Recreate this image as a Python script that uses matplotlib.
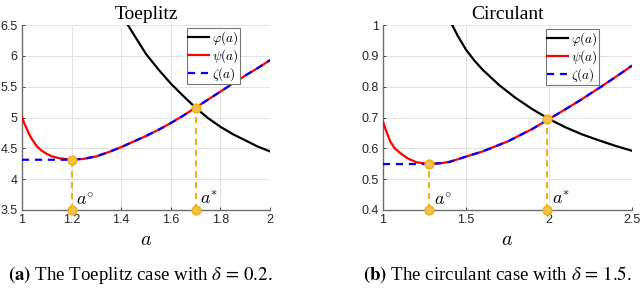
import matplotlib
matplotlib.use("Agg")
import matplotlib.pyplot as plt
import numpy as np

plt.rcParams['mathtext.fontset'] = 'cm'
plt.rcParams['font.family'] = ['Liberation Sans', 'DejaVu Sans']

# ---------------- data: Toeplitz (left) ----------------
toep_psi_a = [1.00, 1.01, 1.02, 1.03, 1.04, 1.05, 1.06, 1.08, 1.10, 1.12, 1.15, 1.20,
              1.25, 1.30, 1.35, 1.40, 1.45, 1.50, 1.55, 1.60, 1.65, 1.70, 1.75, 1.80,
              1.85, 1.90, 1.95, 2.00]
toep_psi_v = [5.00, 4.90, 4.81, 4.72, 4.65, 4.59, 4.53, 4.46, 4.41, 4.37, 4.34, 4.315,
              4.33, 4.37, 4.44, 4.52, 4.61, 4.70, 4.80, 4.91, 5.03, 5.16, 5.29, 5.42,
              5.55, 5.68, 5.80, 5.93]
toep_phi_a = [1.427, 1.45, 1.50, 1.55, 1.60, 1.65, 1.70, 1.75, 1.80, 1.85, 1.90, 1.95, 2.00]
toep_phi_v = [6.50, 6.35, 6.03, 5.78, 5.55, 5.35, 5.16, 4.99, 4.85, 4.73, 4.63, 4.53, 4.45]
toep_a_circ, toep_min = 1.20, 4.315
toep_a_star, toep_star = 1.70, 5.16
toep_xticks = [1, 1.2, 1.4, 1.6, 1.8, 2]
toep_xlabels = ['1', '1.2', '1.4', '1.6', '1.8', '2']
toep_yticks = [3.5, 4, 4.5, 5, 5.5, 6, 6.5]
toep_ylabels = ['3.5', '4', '4.5', '5', '5.5', '6', '6.5']

# ---------------- data: Circulant (right) ----------------
circ_psi_a = [1.00, 1.02, 1.044, 1.07, 1.105, 1.15, 1.20, 1.28, 1.35, 1.40, 1.50, 1.60,
              1.75, 1.90, 2.00, 2.10, 2.20, 2.30, 2.40, 2.50]
circ_psi_v = [0.686, 0.655, 0.622, 0.600, 0.584, 0.567, 0.555, 0.549, 0.552, 0.556, 0.573,
              0.590, 0.622, 0.663, 0.695, 0.727, 0.760, 0.795, 0.831, 0.868]
circ_phi_a = [1.417, 1.45, 1.50, 1.55, 1.60, 1.70, 1.80, 1.90, 2.00, 2.10, 2.20, 2.30, 2.40, 2.50]
circ_phi_v = [1.000, 0.965, 0.920, 0.885, 0.855, 0.805, 0.763, 0.727, 0.695, 0.668, 0.645,
              0.626, 0.608, 0.592]
circ_a_circ, circ_min = 1.28, 0.549
circ_a_star, circ_star = 1.99, 0.695
circ_xticks = [1, 1.5, 2, 2.5]
circ_xlabels = ['1', '1.5', '2', '2.5']
circ_yticks = [0.4, 0.5, 0.6, 0.7, 0.8, 0.9, 1.0]
circ_ylabels = ['0.4', '0.5', '0.6', '0.7', '0.8', '0.9', '1']

ORANGE = '#EDB120'
TXT = '#262626'


def panel(ax, psi_a, psi_v, phi_a, phi_v, a_c, vmin, a_s, vs, xt, xl, yt, yl, title, leg_x, leg_y):
    xlim = (xt[0], xt[-1])
    ylim = (yt[0], yt[-1])
    ax.set_xlim(*xlim)
    ax.set_ylim(*ylim)
    ax.plot(phi_a, phi_v, color='black', lw=1.6, zorder=3, label=r'$\varphi(a)$')
    ax.plot(psi_a, psi_v, color='#FF0000', lw=1.6, zorder=3, label=r'$\psi(a)$')
    za = [xlim[0]] + [a for a in psi_a if a >= a_c]
    zv = [vmin] + [v for a, v in zip(psi_a, psi_v) if a >= a_c]
    ax.plot(za, zv, color='#0000FF', lw=1.6, ls=(0, (3.2, 2.6)), zorder=4, label=r'$\zeta(a)$')
    for a, v in [(a_c, vmin), (a_s, vs)]:
        ax.plot([a, a], [ylim[0], v], color=ORANGE, lw=1.5, ls=(0, (3.0, 2.2)), zorder=5,
                clip_on=False)
        ax.plot([a, a], [ylim[0], v], ls='none', marker='o', ms=6.2, mfc='#F2C24E',
                mec=ORANGE, mew=1.2, zorder=6, clip_on=False)
    ax.annotate(r'$a^{\circ}$', (a_c, ylim[0]), xytext=(3, 1), textcoords='offset points',
                ha='left', va='bottom', fontsize=13, color='black', zorder=7)
    ax.annotate(r'$a^{*}$', (a_s, ylim[0]), xytext=(3, 1), textcoords='offset points',
                ha='left', va='bottom', fontsize=13, color='black', zorder=7)

    ax.set_xticks(xt)
    ax.set_xticklabels(xl)
    ax.set_yticks(yt)
    ax.set_yticklabels(yl)
    ax.tick_params(direction='in', length=2.5, width=0.6, colors=TXT, labelsize=9, pad=3)
    ax.grid(True, color='#e3e3e3', lw=0.7)
    ax.set_axisbelow(True)
    for s in ['top', 'right']:
        ax.spines[s].set_visible(False)
    for s in ['left', 'bottom']:
        ax.spines[s].set_color('#6e6e6e')
        ax.spines[s].set_linewidth(1.0)
    ax.set_xlabel(r'$a$', fontsize=14.5, labelpad=3)
    ax.set_title(title, fontsize=14, family='Liberation Serif', pad=4)
    leg = ax.legend(loc='upper right', bbox_to_anchor=(leg_x, leg_y), fontsize=9.5,
                    frameon=True, fancybox=False, edgecolor='#777777', framealpha=1,
                    handlelength=1.6, handletextpad=0.2, borderpad=0.1, labelspacing=0.0,
                    borderaxespad=0.0)
    leg.get_frame().set_linewidth(0.8)


fig = plt.figure(figsize=(6.4, 2.91), dpi=100)
ax1 = fig.add_axes([22 / 640, 81 / 291, 248 / 640, 185 / 291])
ax2 = fig.add_axes([383 / 640, 81 / 291, 249 / 640, 185 / 291])

panel(ax1, toep_psi_a, toep_psi_v, toep_phi_a, toep_phi_v, toep_a_circ, toep_min,
      toep_a_star, toep_star, toep_xticks, toep_xlabels, toep_yticks, toep_ylabels,
      'Toeplitz', 0.879, 0.984)
panel(ax2, circ_psi_a, circ_psi_v, circ_phi_a, circ_phi_v, circ_a_circ, circ_min,
      circ_a_star, circ_star, circ_xticks, circ_xlabels, circ_yticks, circ_ylabels,
      'Circulant', 0.867, 0.978)

fig.text(8 / 640, 1 - 275 / 291, r'$\mathbf{(a)}$ The Toeplitz case with $\delta\,=\,0.2$.',
         family='Liberation Serif', fontsize=13.6, math_fontfamily='stix', ha='left', va='center')
fig.text(363 / 640, 1 - 275 / 291, r'$\mathbf{(b)}$ The circulant case with $\delta\,=\,1.5$.',
         family='Liberation Serif', fontsize=13.6, math_fontfamily='stix', ha='left', va='center')

fig.savefig('out.png', dpi=100)
